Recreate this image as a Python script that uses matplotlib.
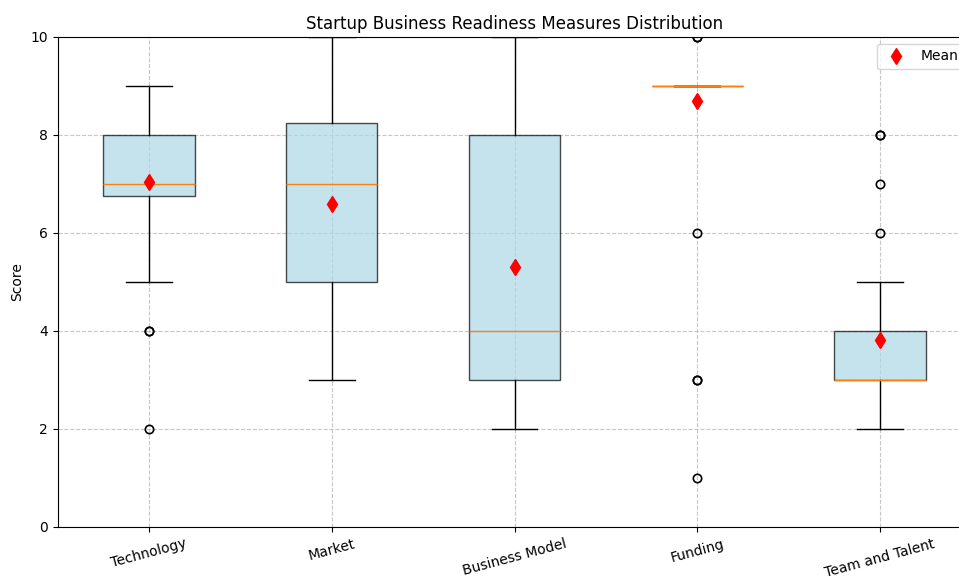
import matplotlib
matplotlib.use("Agg")
import matplotlib.pyplot as plt

# Summary statistics per readiness measure
categories = ["Technology", "Market", "Business Model", "Funding", "Team and Talent"]
q1_values = [6.75, 5.0, 3.0, 9.0, 3.0]
medians = [7.0, 7.0, 4.0, 9.0, 3.0]
q3_values = [8.0, 8.25, 8.0, 9.0, 4.0]
whisker_low = [5.0, 3.0, 2.0, 9.0, 2.0]
whisker_high = [9.0, 10.0, 10.0, 9.0, 5.0]
means = [7.05, 6.59, 5.31, 8.69, 3.82]
outliers = [
    [4, 4, 2],
    [],
    [],
    [10, 10, 6, 3, 3, 1],
    [6, 7, 8, 8],
]

stats = []
for i, name in enumerate(categories):
    stats.append({
        "label": name,
        "q1": q1_values[i],
        "med": medians[i],
        "q3": q3_values[i],
        "whislo": whisker_low[i],
        "whishi": whisker_high[i],
        "mean": means[i],
        "fliers": outliers[i],
    })

fig = plt.figure(figsize=(9.59, 5.77), dpi=100)
ax = fig.add_axes([57.5 / 959, 50 / 577, 914 / 959, 490 / 577])

bp = ax.bxp(
    stats,
    showmeans=True,
    patch_artist=True,
    widths=0.5,
    meanprops=dict(marker="d", markerfacecolor="red", markeredgecolor="red",
                   markersize=8),
    medianprops=dict(color="#ff7f0e", linewidth=1),
    flierprops=dict(marker="o", markerfacecolor="none", markeredgecolor="black",
                    markersize=6, markeredgewidth=1.2),
)
for box in bp["boxes"]:
    box.set_facecolor("lightblue")
    box.set_alpha(0.7)

ax.set_ylim(0, 10)
ax.set_title("Startup Business Readiness Measures Distribution")
ax.set_ylabel("Score")
ax.set_xticks(range(1, len(categories) + 1))
ax.set_xticklabels(categories, rotation=15)
ax.grid(True, linestyle="--", alpha=0.7)
ax.legend([bp["means"][0]], ["Mean"], loc="upper right")

fig.savefig("out.png", dpi=100)
